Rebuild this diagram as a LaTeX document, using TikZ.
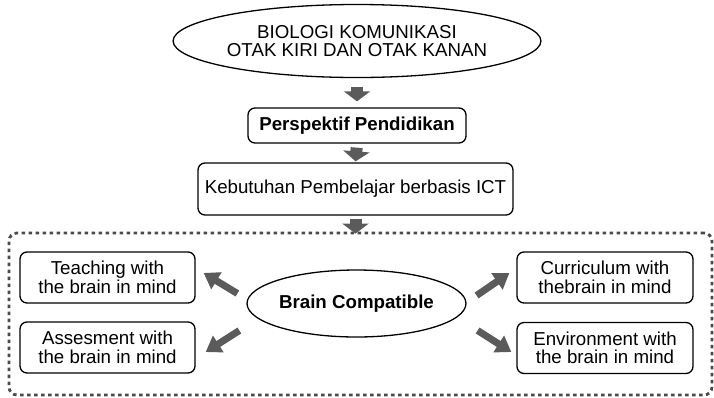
\documentclass[tikz,border=0pt]{standalone}
\usepackage{fontspec}
\setmainfont{Liberation Sans}
\usetikzlibrary{shapes.geometric,arrows.meta}
\definecolor{arrowgray}{HTML}{5B5B5B}
\definecolor{framegray}{HTML}{4A4A4A}
\tikzset{
  txt/.style={font=\fontsize{18.7}{18.5}\selectfont, align=center, inner sep=0pt},
  oval/.style={txt, draw, ellipse, line width=1.3pt},
  rbox/.style={txt, draw, rounded corners=7pt, line width=1.3pt},
  downarrow/.style={draw=arrowgray, line width=12pt,
    -{Triangle[width=26pt,length=10pt]}, arrowgray},
  diagarrow/.style={draw=arrowgray, line width=7pt,
    -{Triangle[width=19pt,length=15pt]}, arrowgray},
  frame/.style={draw=framegray, line width=2.8pt, dash pattern=on 3.5pt off 3.5pt,
    rounded corners=8pt, inner sep=0pt}
}
\begin{document}
\begin{tikzpicture}[x=1pt,y=-1pt]
  \useasboundingbox (0,0) rectangle (714,397);

  % chain at the top
  \node[oval, minimum width=314pt, minimum height=73pt] (bio) at (357,41)
    {BIOLOGI KOMUNIKASI\\OTAK KIRI DAN OTAK KANAN};
  \node[rbox, minimum width=218pt, minimum height=35pt] (persp) at (357,125.5)
    {\bfseries Perspektif Pendidikan};
  \node[rbox, minimum width=315pt, minimum height=52pt] (keb) at (355.5,189)
    {\raisebox{2pt}{Kebutuhan Pembelajar berbasis ICT}};

  % dotted frame around the brain compatible group
  \node[frame, minimum width=703pt, minimum height=162pt] (grp) at (360.5,314) {};

  % inner group
  \node[oval, minimum width=199pt, minimum height=67pt] (bc) at (356.5,303.5)
    {\bfseries Brain Compatible};
  \node[rbox, minimum width=175pt, minimum height=51pt] (teach) at (107.5,277.5)
    {Teaching with\\the brain in mind};
  \node[rbox, minimum width=175pt, minimum height=51pt] (assess) at (107.5,347.5)
    {Assesment with\\the brain in mind};
  \node[rbox, minimum width=176pt, minimum height=51pt] (curr) at (605,277.5)
    {Curriculum with\\thebrain in mind};
  \node[rbox, minimum width=176pt, minimum height=51pt] (env) at (605,348)
    {Environment with\\the brain in mind};

  % downward block arrows
  \draw[downarrow, shorten <=9pt, shorten >=6pt] (bio.south) -- (persp.north);
  \draw[downarrow, shorten <=4pt, shorten >=1pt] (persp.south) -- (keb.north);
  \draw[downarrow, shorten <=3pt, shorten >=-2pt] (keb.south) -- (grp.north -| keb.south);

  % arrows out of the centre ellipse
  \draw[diagarrow] ([xshift=-9pt,yshift=10pt]bc.west) -- ([xshift=8pt,yshift=4.5pt]teach.east);
  \draw[diagarrow] ([xshift=-7pt,yshift=-27pt]bc.west) -- ([xshift=10pt,yshift=-4.5pt]assess.east);
  \draw[diagarrow] ([xshift=10pt,yshift=8pt]bc.east) -- ([xshift=-7pt,yshift=4.5pt]curr.west);
  \draw[diagarrow] ([xshift=11pt,yshift=-27pt]bc.east) -- ([xshift=-5pt,yshift=-4pt]env.west);
\end{tikzpicture}
\end{document}
